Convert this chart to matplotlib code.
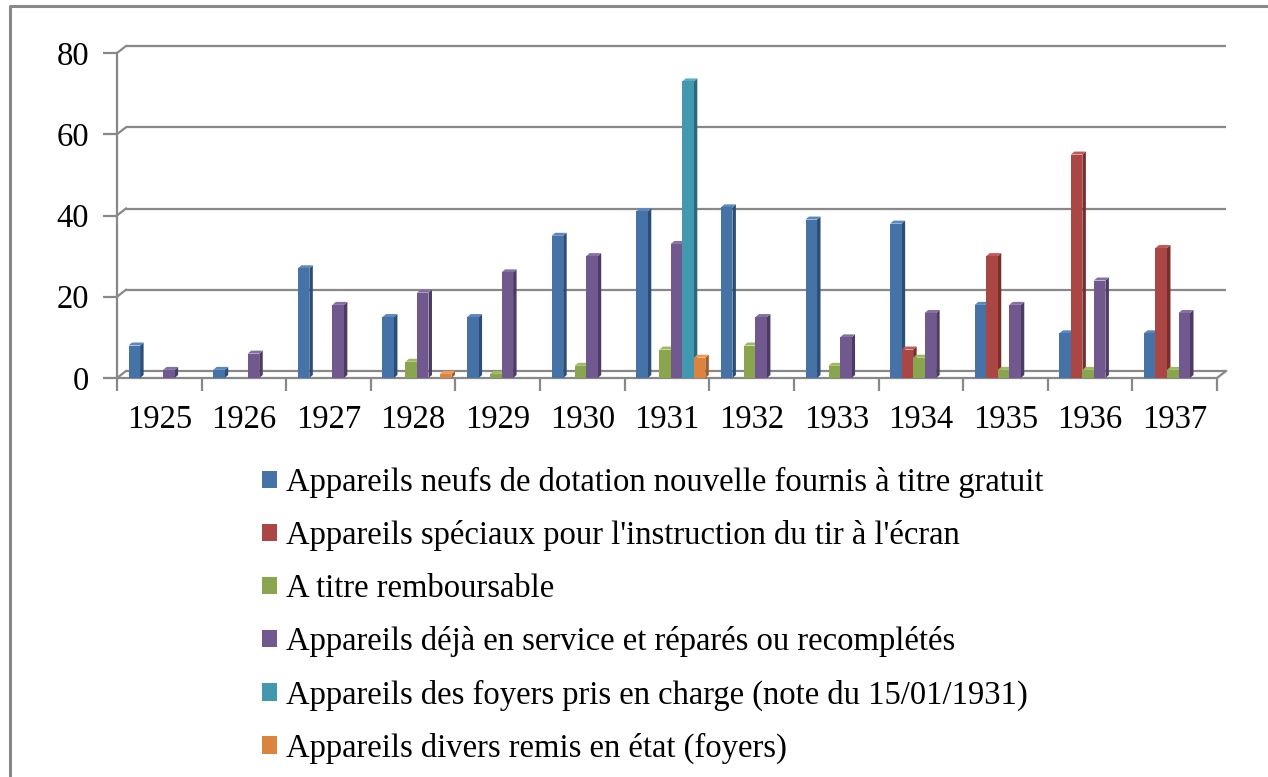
import matplotlib
matplotlib.use("Agg")
import matplotlib.pyplot as plt
from matplotlib.patches import Polygon, Patch
from matplotlib.lines import Line2D
import numpy as np

plt.rcParams['font.family'] = ['Liberation Serif', 'DejaVu Serif']

years = ["1925", "1926", "1927", "1928", "1929", "1930", "1931",
         "1932", "1933", "1934", "1935", "1936", "1937"]

series_names = [
    "Appareils neufs de dotation nouvelle fournis à titre gratuit",
    "Appareils spéciaux pour l'instruction du tir à l'écran",
    "A titre remboursable",
    "Appareils déjà en service et réparés ou recomplétés",
    "Appareils des foyers pris en charge (note du 15/01/1931)",
    "Appareils divers remis en état (foyers)",
]

neufs      = [8, 2, 27, 15, 15, 35, 41, 42, 39, 38, 18, 11, 11]
speciaux   = [0, 0, 0, 0, 0, 0, 0, 0, 0, 7, 30, 55, 32]
rembours   = [0, 0, 0, 4, 1, 3, 7, 8, 3, 5, 2, 2, 2]
repares    = [2, 6, 18, 21, 26, 30, 33, 15, 10, 16, 18, 24, 16]
foyers     = [0, 0, 0, 0, 0, 0, 73, 0, 0, 0, 0, 0, 0]
divers     = [0, 0, 0, 1, 0, 0, 5, 0, 0, 0, 0, 0, 0]

all_series = [neufs, speciaux, rembours, repares, foyers, divers]

front_colors = ["#4572A7", "#AA4643", "#89A54E", "#71588F", "#4198AF", "#DB843D"]
side_colors  = ["#2C4D75", "#772E2C", "#5F7536", "#4C3B62", "#2A6A7B", "#A15E27"]
top_colors   = ["#5A87BD", "#C05A57", "#9DBA62", "#8570A3", "#56ADC4", "#EE9A55"]

W, H = 1268, 777
fig = plt.figure(figsize=(W / 100, H / 100), dpi=100)
fig.patch.set_facecolor("white")

ax = fig.add_axes([117 / W, (H - 378) / H, 1100 / W, 325 / H])
ax.set_xlim(-0.5, len(years) - 0.5)
ax.set_ylim(0, 80)
for s in ax.spines.values():
    s.set_visible(False)
ax.set_facecolor("none")

grid_color = "#888888"
px_x = 1100 / len(years)      # pixels per category
px_y = 325 / 80               # pixels per unit
gdx, gdy = 9 / px_x, 7 / px_y   # back wall depth
bdx, bdy = 3.5 / px_x, 3 / px_y  # bar depth

x0, x1 = -0.5, len(years) - 0.5
yticks = [0, 20, 40, 60, 80]
for v in yticks:
    ax.plot([x0 + gdx, x1 + gdx], [v + gdy, v + gdy], color=grid_color,
            lw=1.6, clip_on=False, zorder=1, solid_capstyle='butt')
    ax.plot([x0, x0 + gdx], [v, v + gdy], color=grid_color, lw=1.6,
            clip_on=False, zorder=1)
# front floor & axis
ax.plot([x0, x1], [0, 0], color=grid_color, lw=1.6, clip_on=False, zorder=1)
ax.plot([x1, x1 + gdx], [0, gdy], color=grid_color, lw=1.6, clip_on=False, zorder=1)
ax.plot([x0, x0], [0, 80], color=grid_color, lw=1.6, clip_on=False, zorder=1)

fs = 23.5
ax.set_yticks(yticks)
ax.set_yticklabels([str(v) for v in yticks], fontsize=fs)
ax.set_xticks(np.arange(len(years) + 1) - 0.5, minor=False)
ax.set_xticklabels([""] * (len(years) + 1))
ax.set_xticks(np.arange(len(years)), minor=True)
ax.set_xticklabels(years, minor=True, fontsize=fs)
ax.tick_params(axis='y', length=10, width=1.6, color=grid_color, pad=10)
ax.tick_params(axis='x', which='major', length=9, width=1.6, color=grid_color)
ax.tick_params(axis='x', which='minor', length=0, pad=19)

# bars
n = len(all_series)
slot = 0.136
shift = 0.045
for i, (vals, fc, sc, tc) in enumerate(zip(all_series, front_colors, side_colors, top_colors)):
    xs = np.arange(len(years)) + (i - (n - 1) / 2) * slot + shift
    for x, h in zip(xs, vals):
        if h <= 0:
            continue
        l, r = x - slot / 2, x + slot / 2
        side = Polygon([(r, 0), (r + bdx, bdy), (r + bdx, h + bdy), (r, h)],
                       closed=True, facecolor=sc, edgecolor='none', zorder=3 + i * 0.01)
        top = Polygon([(l, h), (l + bdx, h + bdy), (r + bdx, h + bdy), (r, h)],
                      closed=True, facecolor=tc, edgecolor='none', zorder=3 + i * 0.01)
        ax.add_patch(side)
        ax.add_patch(top)
    ax.bar(xs, vals, width=slot, color=fc, edgecolor='none', zorder=3.005 + i * 0.01)

# legend
handles = [Patch(facecolor=c, edgecolor='none') for c in front_colors]
fig.legend(handles, series_names, loc='upper left',
           bbox_to_anchor=(262 / W, 1 - 467 / H), frameon=False,
           fontsize=fs, handlelength=0.45, handleheight=0.45,
           handletextpad=0.3, labelspacing=0.68, borderpad=0, borderaxespad=0)

# outer border (left and top)
fig.add_artist(Line2D([10 / W, 10 / W, 1.0], [0.0, 1 - 6 / H, 1 - 6 / H],
                      transform=fig.transFigure, color="#888888", lw=2.2))

fig.savefig("out.png", dpi=100)
